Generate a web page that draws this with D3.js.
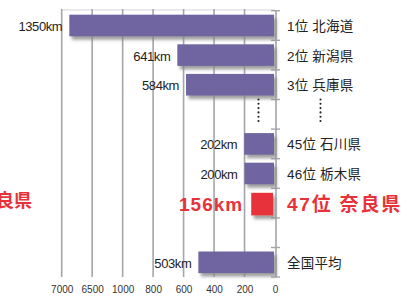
<!DOCTYPE html>
<html><head><meta charset="utf-8">
<script src="https://cdn.jsdelivr.net/npm/d3@7"></script>
<style>body{margin:0;background:#fff}svg{display:block}</style>
</head><body>
<script>
const categories = ["1位 北海道","2位 新潟県","3位 兵庫県","…","45位 石川県","46位 栃木県","47位 奈良県","","全国平均"];
const values = [1350, 641, 584, null, 202, 200, 156, null, 503];
const highlight = "47位 奈良県";
const tickValues = [0, 200, 400, 600, 800, 1000, 1200, 1400];
const tickLabels = ["0", "200", "400", "600", "800", "1000", "6500", "7000"];
const sideTitle = "奈良県";

const W = 413, H = 296;
const purple = "#7065a0", red = "#e8323a", grid = "#a2a5aa";
const font = "'Liberation Sans', 'Noto Sans CJK JP', sans-serif";

const svg = d3.select("body").append("svg").attr("width", W).attr("height", H);
const defs = svg.append("defs");
const f = defs.append("filter").attr("id","sh").attr("x","-20%").attr("y","-30%").attr("width","150%").attr("height","180%");
f.append("feDropShadow").attr("dx",2.5).attr("dy",3.5).attr("stdDeviation",1.5).attr("flood-color","#888").attr("flood-opacity",0.8);

const x = d3.scaleLinear().domain([0, 1400]).range([275, 61.7]);
const y = d3.scaleBand().domain(categories).range([10.7, 277.1]).paddingInner(0.27).paddingOuter(0.135);

// top border line
svg.append("line").attr("x1", x(1400)).attr("x2", x(0)).attr("y1", 10).attr("y2", 10)
  .attr("stroke", "#d4d6d9").attr("stroke-width", 1);

// vertical gridlines
svg.append("g").selectAll("line").data(tickValues.slice(1)).join("line")
  .attr("x1", d => x(d)).attr("x2", d => x(d)).attr("y1", 9).attr("y2", 277)
  .attr("stroke", grid).attr("stroke-width", 1.6);

// right axis with ticks at band boundaries
const ax = svg.append("g").attr("transform", `translate(${x(0)+1},0)`);
ax.append("line").attr("y1", 10.7).attr("y2", 277).attr("stroke", grid).attr("stroke-width", 1.6);
const bounds = categories.map(c => y(c) - y.step()*y.paddingInner()/2).concat([277]);
ax.selectAll("line.t").data(bounds).join("line").attr("class","t")
  .attr("x1", -5).attr("x2", 4).attr("y1", d => d).attr("y2", d => d)
  .attr("stroke", grid).attr("stroke-width", 1.4);

// bottom tick labels
const xAxis = d3.axisBottom(x).tickValues(tickValues).tickFormat((d,i) => tickLabels[i]).tickSize(0).tickPadding(0);
const gx = svg.append("g").attr("transform", "translate(0,285)").call(xAxis);
gx.select(".domain").remove();
gx.selectAll("text").attr("font-family", font).attr("font-size", 10).attr("fill", "#333").attr("dy", "0.75em");

const rows = categories.map((c, i) => ({c, v: values[i]})).filter(d => d.v != null);

// bars
svg.append("g").selectAll("rect").data(rows).join("rect")
  .attr("x", d => x(d.v))
  .attr("y", d => d.c === highlight ? y(d.c) + 0.5 : y(d.c))
  .attr("width", d => d.c === highlight ? x(0) - x(d.v) - 2 : x(0) - x(d.v) - 1)
  .attr("height", d => d.c === highlight ? y.bandwidth() + 1 : y.bandwidth())
  .attr("fill", d => d.c === highlight ? red : purple)
  .attr("filter", "url(#sh)");

// value labels
svg.append("g").selectAll("text").data(rows).join("text")
  .attr("x", d => x(d.v) - (d.c === highlight ? 8 : 7))
  .attr("y", d => y(d.c) + y.bandwidth()/2 + 1)
  .attr("text-anchor", "end").attr("dominant-baseline", "central")
  .attr("font-family", font)
  .attr("font-size", d => d.c === highlight ? 19 : 13)
  .attr("font-weight", d => d.c === highlight ? "bold" : "normal")
  .attr("letter-spacing", d => d.c === highlight ? 1 : -0.4)
  .attr("fill", d => d.c === highlight ? red : "#222")
  .text(d => d.v + "km");

// category labels
svg.append("g").selectAll("text").data(rows).join("text")
  .attr("x", 287)
  .attr("y", d => y(d.c) + y.bandwidth()/2 + 1)
  .attr("dominant-baseline", "central")
  .attr("font-family", font)
  .attr("font-size", d => d.c === highlight ? 19 : 13.5)
  .attr("font-weight", d => d.c === highlight ? "bold" : "normal")
  .attr("letter-spacing", d => d.c === highlight ? 1.8 : 0.2)
  .attr("fill", d => d.c === highlight ? red : "#222")
  .text(d => d.c);

// vertical ellipsis markers in the gap row
const gapRow = "…";
const dotY = d3.range(6).map(i => y(gapRow) - 4 + i * 4.3);
[258.5, 320.5].forEach(cx => {
  svg.append("g").selectAll("circle").data(dotY).join("circle")
    .attr("cx", cx).attr("cy", d => d).attr("r", 1.05).attr("fill", "#222");
});

// side title, cut off at the left edge as in the reference
svg.append("text").attr("x", 32).attr("y", y(highlight) + y.bandwidth()/2 - 2)
  .attr("text-anchor", "end").attr("dominant-baseline", "central")
  .attr("font-family", font).attr("font-size", 18).attr("font-weight", "bold")
  .attr("fill", red).text(sideTitle);
</script>
</body></html>
